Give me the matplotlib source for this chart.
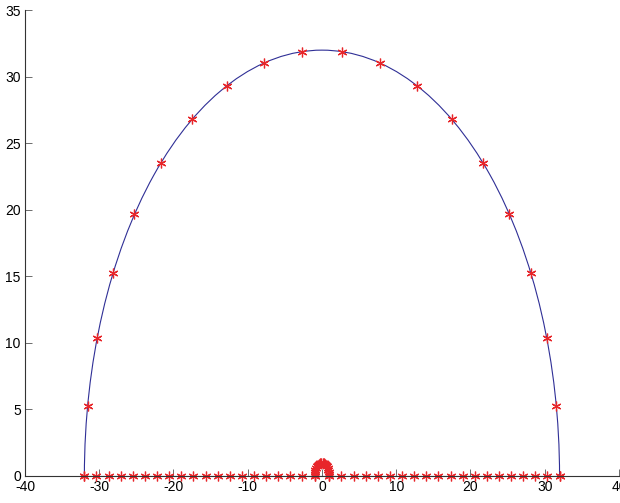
import matplotlib
matplotlib.use("Agg")
import matplotlib.pyplot as plt
from matplotlib.patches import Arc

plt.rcParams['font.family'] = ['Liberation Sans', 'DejaVu Sans']
plt.rcParams['axes.unicode_minus'] = False

# outer half circle: radius and the starred points on its right half (x, y)
R = 32.0
big_x = [32.0, 31.56, 30.27, 28.14, 25.25, 21.67, 17.50, 12.85, 7.86, 2.64]
big_y = [0.0, 5.27, 10.39, 15.23, 19.65, 23.54, 26.79, 29.30, 31.02, 31.89]

# inner half circle (radius 1) around the origin, right half
small_x = [1.0, 0.986, 0.946, 0.879, 0.789, 0.677, 0.547, 0.402, 0.245, 0.083]
small_y = [0.0, 0.165, 0.325, 0.476, 0.614, 0.736, 0.837, 0.916, 0.969, 0.997]

# stars along the real axis, right half
axis_x = [1.0, 2.63, 4.26, 5.89, 7.53, 9.16, 10.79, 12.42, 14.05, 15.68,
          17.32, 18.95, 20.58, 22.21, 23.84, 25.47, 27.11, 28.74, 30.37, 32.0]

def mirror(xs, ys):
    return [-v for v in xs[::-1]] + xs, ys[::-1] + ys

bx, by = mirror(big_x, big_y)
sx, sy = mirror(small_x, small_y)
ax_x, ax_y = mirror(axis_x, [0.0] * len(axis_x))

fig = plt.figure(figsize=(6.2, 5.03), dpi=100)
ax = fig.add_axes([0.0403, 0.0537, 0.958, 0.926])

blue = '#2f2f96'
ax.add_patch(Arc((0, 0), 2 * R, 2 * R, theta1=0, theta2=180, color=blue, lw=0.8))
ax.plot([ax_x[0], ax_x[-1]], [0, 0], color=blue, lw=0.8)

# matlab style asterisk: three crossing strokes, not clipped at the x axis
mk = dict(ls='none', marker=(6, 2, 0), color='#e8262a', markersize=7,
          markeredgewidth=0.9, clip_on=False)
ax.plot(bx, by, **mk)
ax.plot(ax_x, ax_y, **mk)
ax.plot(sx, sy, **mk)

ax.set_xlim(-40, 40)
ax.set_ylim(0, 35)
ax.set_xticks(range(-40, 41, 10))
ax.set_yticks(range(0, 36, 5))
for s in ['top', 'right']:
    ax.spines[s].set_visible(False)
for s in ['left', 'bottom']:
    ax.spines[s].set_color('#333333')
    ax.spines[s].set_linewidth(0.8)
ax.tick_params(direction='in', length=5, width=0.6, colors='#555555',
               labelcolor='black', labelsize=10, pad=3)

fig.savefig('out.png', dpi=100)
